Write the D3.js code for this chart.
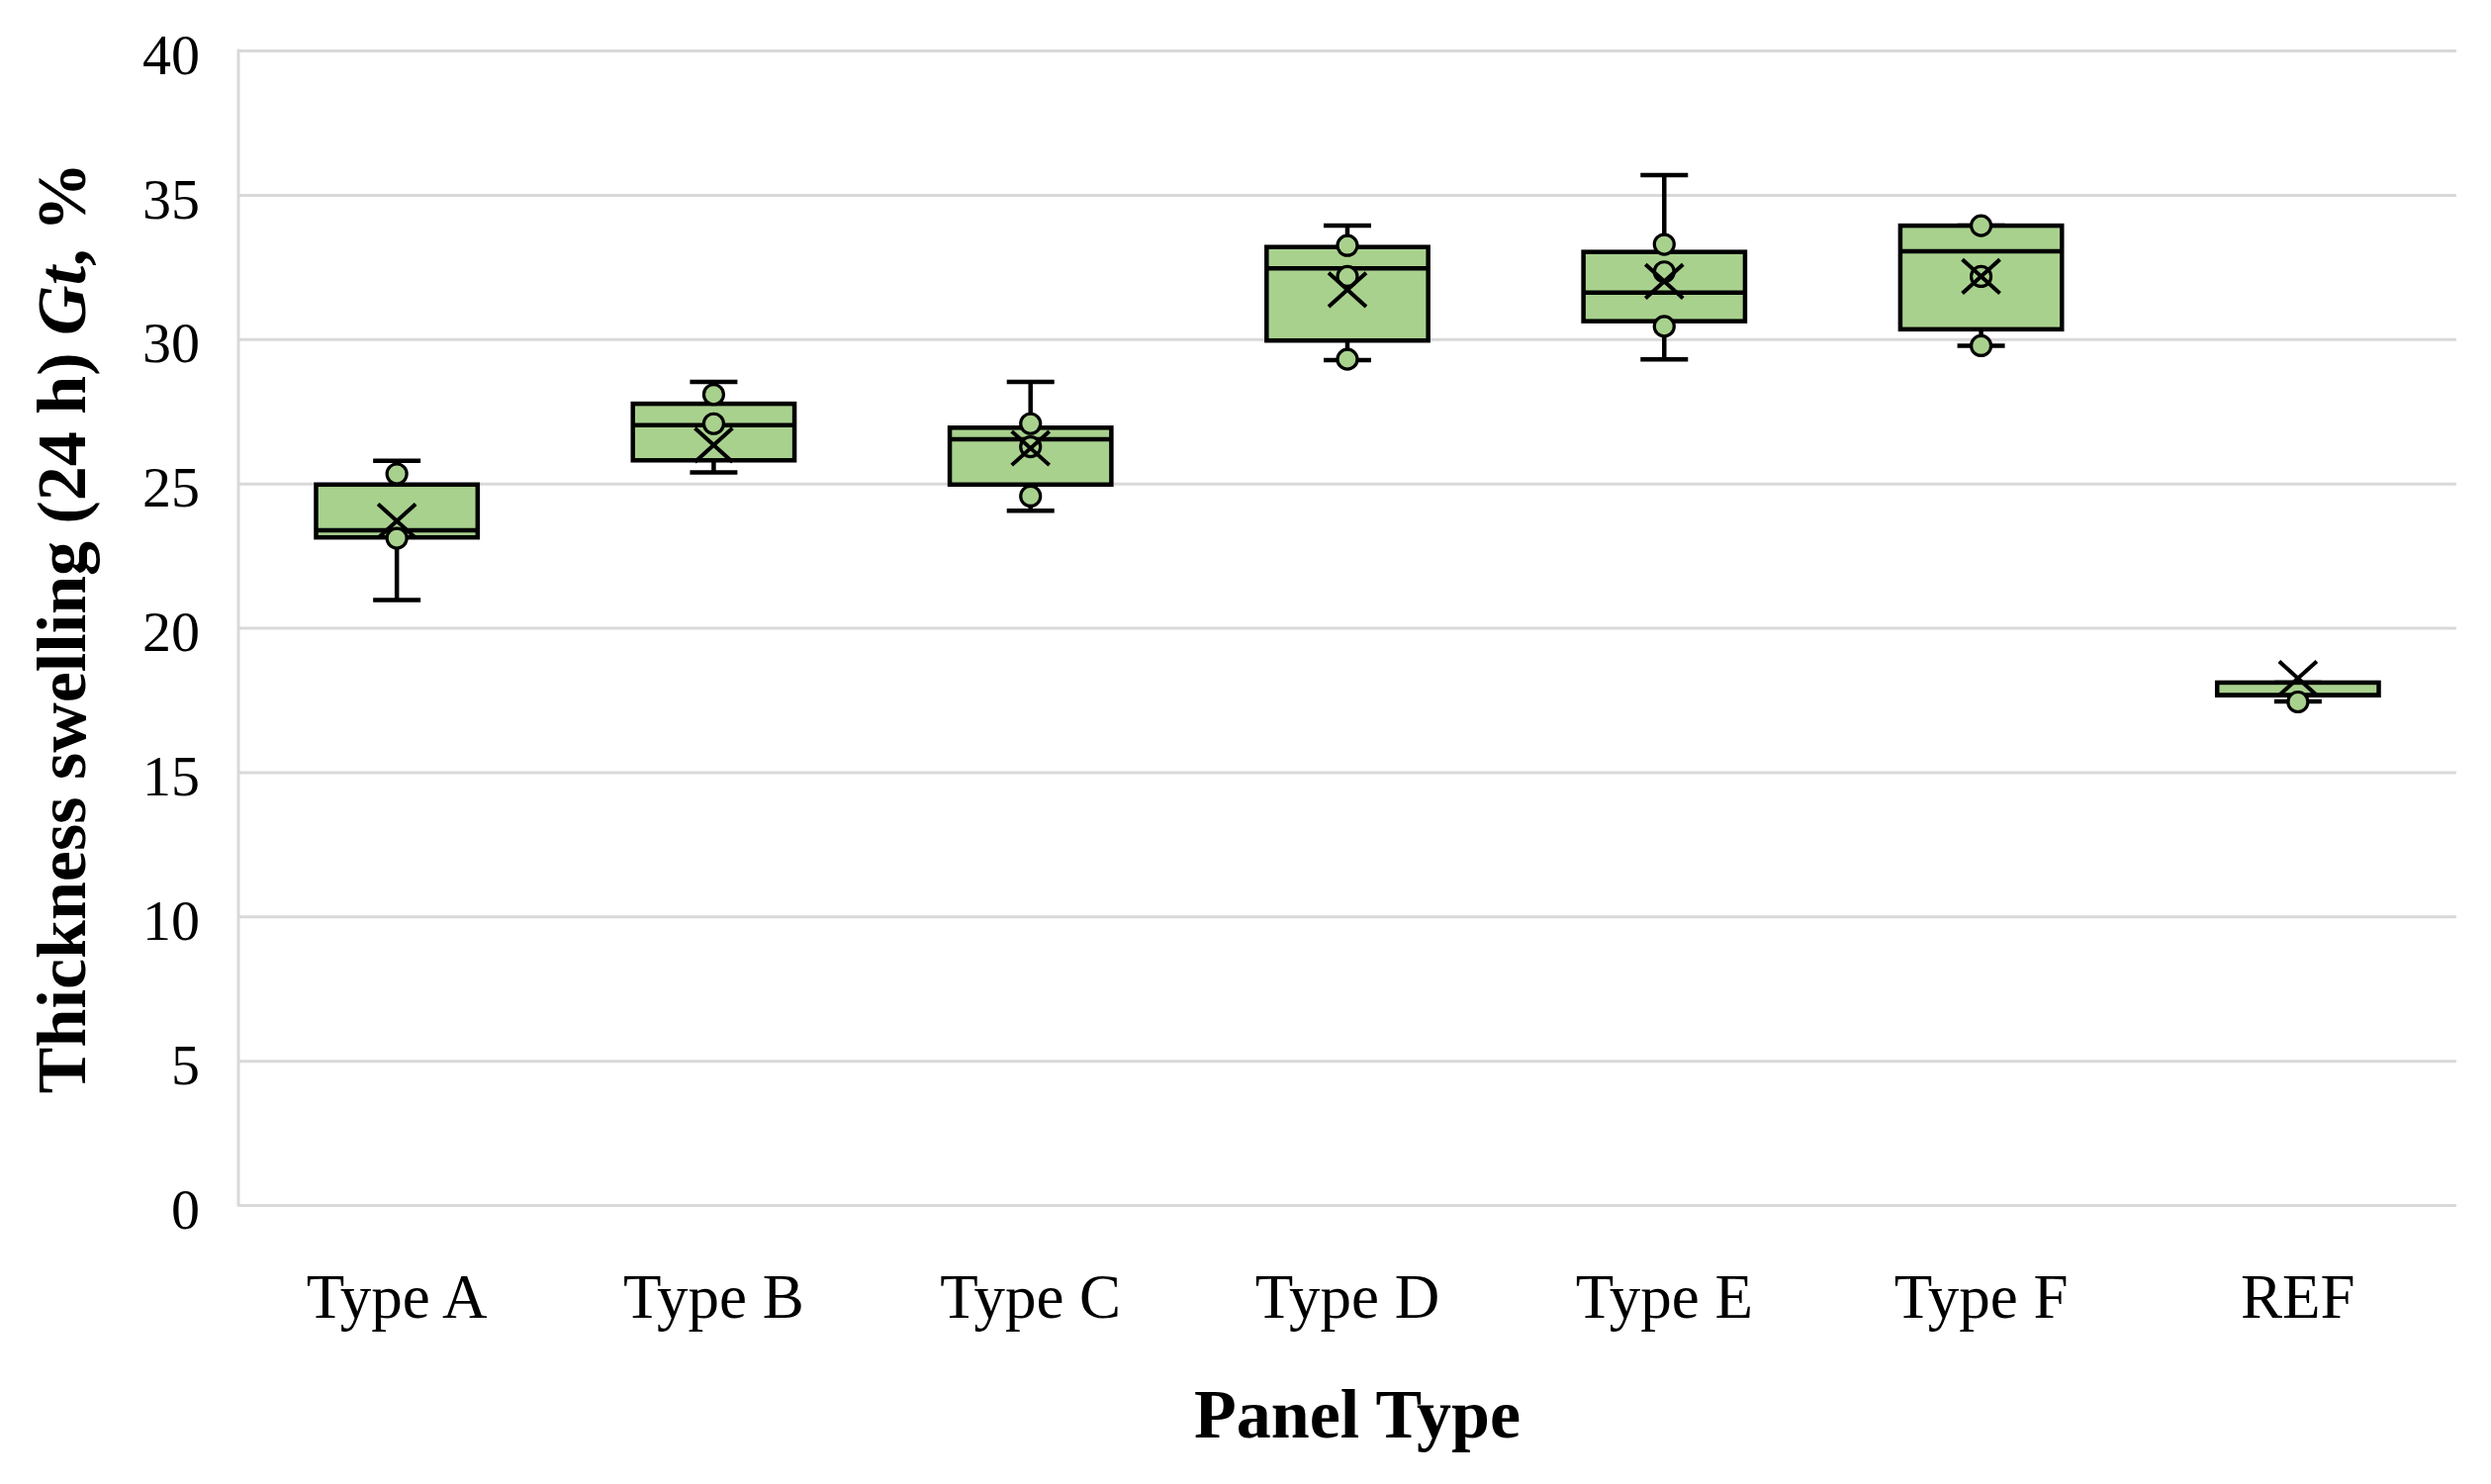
<!DOCTYPE html>
<html lang="en">
    <head>
        <meta charset="utf-8">
        <title>Thickness swelling</title>
        <style>
            body{
                margin:0;
                background:#fff;
            }
            text{
                font-family:"Liberation Serif", "DejaVu Serif", serif;
            }
        </style>
    </head>
    <body>
        <svg id="chart" width="2518" height="1500"></svg>

        <script src="https://d3js.org/d3.v7.min.js"></script>
        <script>
            // values
            const categories = ["Type A","Type B","Type C","Type D","Type E","Type F","REF"]
            const mins    = [20.96, 25.38, 24.05, 29.27, 29.30, 29.77, 17.45]
            const q1s     = [23.13, 25.80, 24.96, 29.95, 30.62, 30.34, 17.66]
            const medians = [23.38, 27.02, 26.53, 32.45, 31.61, 33.04, 17.66]
            const q3s     = [24.96, 27.76, 26.93, 33.19, 33.02, 33.93, 18.10]
            const maxs    = [25.78, 28.52, 28.52, 33.93, 35.68, 33.93, 18.10]
            const means   = [23.70, 26.33, 26.22, 31.71, 32.00, 32.17, 18.25]
            const innerPoints = [
                [25.33, 23.10],
                [28.08, 27.07],
                [27.07, 26.27, 24.56],
                [33.24, 32.17, 29.30],
                [33.28, 32.33, 30.44],
                [33.93, 32.17, 29.77],
                [17.43]
            ]
            const yTicks = [0,5,10,15,20,25,30,35,40]

            const green = "#a9d18e"
            const grid = "#d9d9d9"

            const plotLeft = 241, plotRight = 2483, plotTop = 51, plotBottom = 1218

            const svg = d3.select("#chart")

            const xScale = d3.scaleBand()
                            .domain(categories)
                            .range([plotLeft,plotRight])
            const yScale = d3.scaleLinear()
                            .domain([0,40])
                            .range([plotBottom,plotTop])

            //gridlines + y labels
            const yAxis = d3.axisLeft(yScale)
                            .tickValues(yTicks)
                            .tickSize(-(plotRight-plotLeft))
                            .tickPadding(39)
                            .tickFormat(d=>d)
            const yG = svg.append("g")
                .attr("transform",`translate(${plotLeft},0)`)
                .call(yAxis)
            yG.select(".domain").remove()
            yG.selectAll(".tick line")
                .attr("stroke",grid)
                .attr("stroke-width",3)
            yG.selectAll(".tick text")
                .attr("font-size",58)
                .attr("fill","#000")
                .attr("dy","0.4em")

            svg.append("line")
                .attr("x1",plotLeft).attr("x2",plotLeft)
                .attr("y1",yScale(40)-1.5).attr("y2",yScale(0)+1.5)
                .attr("stroke",grid)
                .attr("stroke-width",3)

            //x labels
            const xAxis = d3.axisBottom(xScale).tickSize(0).tickPadding(0)
            const xG = svg.append("g")
                .attr("transform",`translate(0,${plotBottom})`)
                .call(xAxis)
            xG.select(".domain").remove()
            xG.selectAll(".tick text")
                .attr("font-size",63)
                .attr("fill","#000")
                .attr("dy",0)
                .attr("y",114)

            //boxes
            const boxW = xScale.bandwidth()*0.51
            const capW = 48
            const boxes = categories.map((c,i)=>({
                cat:c, min:mins[i], q1:q1s[i], med:medians[i], q3:q3s[i], max:maxs[i], mean:means[i], pts:innerPoints[i]
            }))
            const cx = d=>xScale(d.cat)+xScale.bandwidth()/2

            const g = svg.selectAll("g.box")
                .data(boxes)
                .enter()
                .append("g")
                .attr("class","box")

            // whiskers
            g.append("line")
                .attr("x1",cx).attr("x2",cx)
                .attr("y1",d=>yScale(d.max)).attr("y2",d=>yScale(d.q3))
                .attr("stroke","#000").attr("stroke-width",4.5)
            g.append("line")
                .attr("x1",cx).attr("x2",cx)
                .attr("y1",d=>yScale(d.min)).attr("y2",d=>yScale(d.q1))
                .attr("stroke","#000").attr("stroke-width",4.5)
            g.append("line")
                .attr("x1",d=>cx(d)-capW/2).attr("x2",d=>cx(d)+capW/2)
                .attr("y1",d=>yScale(d.max)).attr("y2",d=>yScale(d.max))
                .attr("stroke","#000").attr("stroke-width",4.5)
            g.append("line")
                .attr("x1",d=>cx(d)-capW/2).attr("x2",d=>cx(d)+capW/2)
                .attr("y1",d=>yScale(d.min)).attr("y2",d=>yScale(d.min))
                .attr("stroke","#000").attr("stroke-width",4.5)

            g.append("rect")
                .attr("x",d=>cx(d)-boxW/2)
                .attr("width",boxW)
                .attr("y",d=>yScale(d.q3))
                .attr("height",d=>yScale(d.q1)-yScale(d.q3))
                .attr("fill",green)
                .attr("stroke","#000")
                .attr("stroke-width",4.5)

            g.append("line")
                .attr("x1",d=>cx(d)-boxW/2).attr("x2",d=>cx(d)+boxW/2)
                .attr("y1",d=>yScale(d.med)).attr("y2",d=>yScale(d.med))
                .attr("stroke","#000").attr("stroke-width",4.5)

            // inner points
            g.selectAll("circle")
                .data(d=>d.pts.map(v=>({cat:d.cat,v:v})))
                .enter()
                .append("circle")
                .attr("cx",cx)
                .attr("cy",d=>yScale(d.v))
                .attr("r",10)
                .attr("fill",green)
                .attr("stroke","#000")
                .attr("stroke-width",3.2)

            // mean marker
            const mk = 19
            g.append("path")
                .attr("d",d=>{
                    const x0 = cx(d), y0 = yScale(d.mean)
                    return `M${x0-mk},${y0-mk*0.9}L${x0+mk},${y0+mk*0.9}M${x0+mk},${y0-mk*0.9}L${x0-mk},${y0+mk*0.9}`
                })
                .attr("stroke","#000")
                .attr("stroke-width",4)
                .attr("fill","none")

            //axis titles
            svg.append("text")
                .attr("x",1372)
                .attr("y",1453)
                .attr("text-anchor","middle")
                .attr("font-size",70)
                .attr("font-weight","bold")
                .text("Panel Type")

            const yTitle = svg.append("text")
                .attr("transform",`translate(86,${(plotTop+plotBottom)/2}) rotate(-90)`)
                .attr("text-anchor","middle")
                .attr("font-size",70)
                .attr("font-weight","bold")
            yTitle.append("tspan").text("Thickness swelling (24 h) ")
            yTitle.append("tspan").attr("font-style","italic").text("Gt")
            yTitle.append("tspan").text(", %")
        </script>
    </body>
</html>
